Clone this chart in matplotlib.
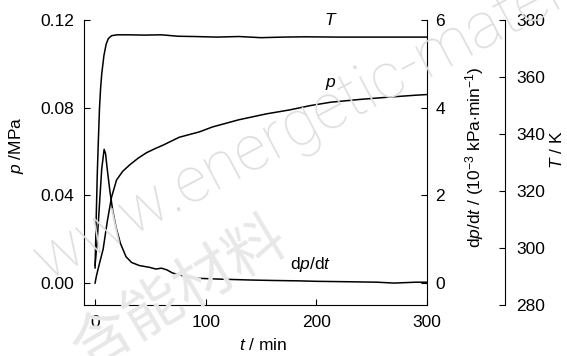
import matplotlib
matplotlib.use("Agg")
import matplotlib.pyplot as plt

plt.rcParams['font.family'] = ['Liberation Sans', 'DejaVu Sans']
plt.rcParams['mathtext.fontset'] = 'custom'
plt.rcParams['mathtext.rm'] = 'Liberation Sans'
plt.rcParams['mathtext.it'] = 'Liberation Sans:italic'

# pressure p (MPa) vs time (min)
t_p = [0, 1.2, 4, 7.3, 11, 14.8, 19.4, 25, 31.5, 39, 46.6, 55, 61.8, 76, 94.5, 106,
       130, 155, 176, 195, 213, 240, 260, 276, 290, 300]
p = [0.0, 0.0032, 0.009, 0.0155, 0.028, 0.039, 0.047, 0.051, 0.054, 0.057, 0.0595,
     0.0615, 0.063, 0.0665, 0.069, 0.0712, 0.0745, 0.0772, 0.079, 0.081, 0.0825,
     0.0838, 0.0846, 0.0852, 0.0857, 0.086]

# pressure rate dp/dt (1e-3 kPa/min)
t_dp = [0, 2, 4, 6, 8.2, 9.5, 11, 13.4, 16, 19, 23, 28, 33, 40, 49, 55, 60, 65,
        70, 80, 92, 113, 140, 160, 185, 200, 230, 255, 270, 290, 300]
dpdt = [0.4, 1.0, 1.8, 2.6, 3.05, 2.95, 2.6, 2.1, 1.65, 1.27, 0.9, 0.6, 0.47, 0.4,
        0.36, 0.32, 0.34, 0.3, 0.23, 0.16, 0.11, 0.09, 0.07, 0.06, 0.05, 0.04,
        0.03, 0.02, 0.0, 0.02, 0.02]

# temperature T (K)
t_T = [0, 1, 2, 3, 4, 5, 6, 8, 10, 12, 15, 20, 30, 45, 60, 75, 90, 110, 130,
       150, 170, 190, 220, 250, 280, 300]
T = [293, 310, 326, 338, 349, 356, 361, 367.5, 371.5, 373.5, 374.5, 374.8, 374.8,
     374.7, 374.8, 374.3, 374.2, 374.0, 374.2, 373.8, 374.0, 374.1, 374.0, 374.0,
     374.0, 374.0]

fig = plt.figure(figsize=(5.67, 3.56), dpi=100)
ax = fig.add_axes([84 / 567, 1 - 305 / 356, 343 / 567, 285 / 356])
ax2 = ax.twinx()
ax3 = ax.twinx()
for a in (ax, ax2, ax3):
    a.set_facecolor('none')

# watermark
wm = dict(rotation_mode='anchor', zorder=0, ha='left', va='baseline')
fig.text(46 / 567, 1 - 280 / 356, 'www.energetic-materials.org.cn', fontsize=46,
         rotation=28, color='#dedede', family=['Roboto', 'DejaVu Sans'],
         fontweight=100, **wm)
fig.text(86 / 567, 1 - 370 / 356, '含能材料', fontsize=43, rotation=31,
         color='#e8e8e8', family=['Noto Sans CJK SC', 'DejaVu Sans'],
         fontweight='light', **wm)

lw = 1.1
ax.plot(t_p, p, color='black', lw=lw)
ax2.plot(t_dp, dpdt, color='black', lw=lw)
ax3.plot(t_T, T, color='black', lw=lw)

ax.set_xlim(-10, 300)
ax.set_ylim(-0.01, 0.12)
ax2.set_ylim(-0.5, 6)
ax3.set_ylim(280, 380)

ax.set_xticks([0, 100, 200, 300])
ax.set_yticks([0.0, 0.04, 0.08, 0.12])
ax.set_yticklabels(['0.00', '0.04', '0.08', '0.12'])
ax2.set_yticks([0, 2, 4, 6])
ax3.set_yticks([280, 300, 320, 340, 360, 380])

for s in ('top', 'right'):
    ax.spines[s].set_visible(False)
for s in ('top', 'left', 'bottom'):
    ax2.spines[s].set_visible(False)
    ax3.spines[s].set_visible(False)
ax3.spines['right'].set_position(('axes', 1 + 78 / 343))

ax.tick_params(axis='x', direction='in', length=4, pad=7, labelsize=12.5)
ax.tick_params(axis='y', direction='in', length=4, pad=7, labelsize=12.5)
ax2.tick_params(axis='y', direction='in', length=4, pad=6, labelsize=12.5)
ax3.tick_params(axis='y', direction='in', length=4, pad=8, labelsize=12.5)

ax.set_xlabel('$t$ / min', fontsize=12.5)
ax.xaxis.set_label_coords(0.522, -0.112)
ax.set_ylabel('$p$ /MPa', fontsize=12.5)
ax.yaxis.set_label_coords(-0.17, 0.561)
ax2.set_ylabel('d$p$/d$t$ / (10$^{-3}$ kPa$\\cdot$min$^{-1}$)', fontsize=12.5)
ax2.yaxis.set_label_coords(1.105, 0.519)
ax3.set_ylabel('$T$ / K', fontsize=12.5)
ax3.yaxis.set_label_coords(1.357, 0.544)

ax.text(213, 0.12, '$T$', fontsize=12.5, ha='center', va='center')
ax.text(213, 0.091, '$p$', fontsize=12.5, ha='center', va='center')
ax.text(195, 0.0085, 'd$p$/d$t$', fontsize=12.5, ha='center', va='center')

fig.savefig('out.png', dpi=100)
